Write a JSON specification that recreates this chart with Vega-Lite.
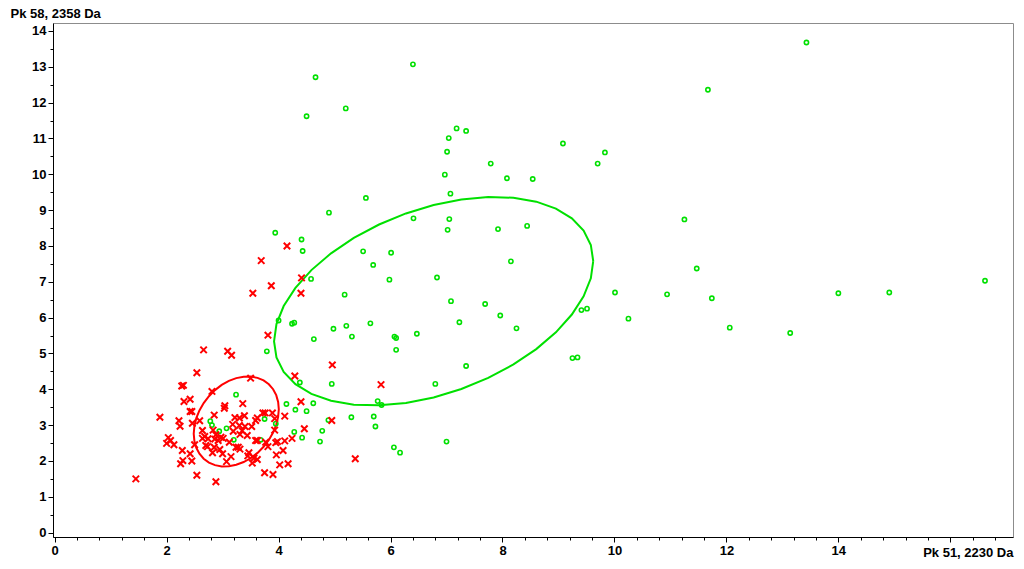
{
  "$schema": "https://vega.github.io/schema/vega-lite/v6.json",
  "width": 960,
  "height": 514,
  "autosize": {"type": "none"},
  "padding": {"left": 53, "top": 23, "right": 11, "bottom": 32},
  "background": "white",
  "config": {
    "view": {"stroke": "#8c8c8c", "strokeWidth": 1},
    "axis": {
      "labelFont": "Liberation Sans",
      "labelFontWeight": "bold",
      "labelFontSize": 13,
      "labelColor": "black",
      "titleFont": "Liberation Sans",
      "titleFontWeight": "bold",
      "titleFontSize": 13,
      "titleColor": "black",
      "domainColor": "black",
      "tickColor": "black",
      "grid": false,
      "labelOverlap": false,
      "labelFlush": false
    }
  },
  "encoding": {
    "x": {
      "field": "x",
      "type": "quantitative",
      "scale": {"domain": [-0.03, 17.12], "nice": false, "zero": false},
      "axis": {
        "values": [0, 0.4, 0.8, 1.2, 1.6, 2, 2.4, 2.8, 3.2, 3.6, 4, 4.4, 4.8, 5.2, 5.6, 6, 6.4, 6.8, 7.2, 7.6, 8, 8.4, 8.8, 9.2, 9.6, 10, 10.4, 10.8, 11.2, 11.6, 12, 12.4, 12.8, 13.2, 13.6, 14, 14.4, 14.8, 15.2, 15.6, 16, 16.4, 16.8],
        "labelExpr": "(abs(datum.value - 2*round(datum.value/2)) < 0.001 && datum.value < 15) ? format(datum.value, 'd') : ''",
        "tickSize": {"condition": {"test": "abs(datum.value - 2*round(datum.value/2)) < 0.001", "value": 5}, "value": 3},
        "labelPadding": 2,
        "title": "Pk 51, 2230 Da",
        "titleAlign": "right",
        "titleBaseline": "alphabetic",
        "titleX": 960,
        "titleY": 19
      }
    },
    "y": {
      "field": "y",
      "type": "quantitative",
      "scale": {"domain": [-0.123, 14.223], "nice": false, "zero": false},
      "axis": {
        "values": [0, 0.5, 1, 1.5, 2, 2.5, 3, 3.5, 4, 4.5, 5, 5.5, 6, 6.5, 7, 7.5, 8, 8.5, 9, 9.5, 10, 10.5, 11, 11.5, 12, 12.5, 13, 13.5, 14],
        "labelExpr": "abs(datum.value - round(datum.value)) < 0.001 ? format(datum.value, 'd') : ''",
        "tickSize": {"condition": {"test": "abs(datum.value - round(datum.value)) < 0.001", "value": 5}, "value": 3},
        "labelPadding": 2,
        "title": "Pk 58, 2358 Da",
        "titleAngle": 0,
        "titleAlign": "left",
        "titleBaseline": "alphabetic",
        "titleX": -43,
        "titleY": -6
      }
    }
  },
  "layer": [
    {
      "data": {"values": [
        {"g":"green","i":0,"x":9.621,"y":7.579},{"g":"green","i":1,"x":9.578,"y":7.096},{"g":"green","i":2,"x":9.449,"y":6.592},{"g":"green","i":3,"x":9.239,"y":6.086},{"g":"green","i":4,"x":8.954,"y":5.590},{"g":"green","i":5,"x":8.603,"y":5.122},{"g":"green","i":6,"x":8.196,"y":4.693},{"g":"green","i":7,"x":7.745,"y":4.317},{"g":"green","i":8,"x":7.265,"y":4.008},{"g":"green","i":9,"x":6.770,"y":3.772},{"g":"green","i":10,"x":6.275,"y":3.618},{"g":"green","i":11,"x":5.795,"y":3.551},{"g":"green","i":12,"x":5.344,"y":3.571},{"g":"green","i":13,"x":4.937,"y":3.680},{"g":"green","i":14,"x":4.586,"y":3.872},{"g":"green","i":15,"x":4.301,"y":4.144},{"g":"green","i":16,"x":4.091,"y":4.486},{"g":"green","i":17,"x":3.962,"y":4.888},{"g":"green","i":18,"x":3.919,"y":5.337},{"g":"green","i":19,"x":3.962,"y":5.820},{"g":"green","i":20,"x":4.091,"y":6.324},{"g":"green","i":21,"x":4.301,"y":6.830},{"g":"green","i":22,"x":4.586,"y":7.326},{"g":"green","i":23,"x":4.937,"y":7.794},{"g":"green","i":24,"x":5.344,"y":8.223},{"g":"green","i":25,"x":5.795,"y":8.599},{"g":"green","i":26,"x":6.275,"y":8.908},{"g":"green","i":27,"x":6.770,"y":9.144},{"g":"green","i":28,"x":7.265,"y":9.298},{"g":"green","i":29,"x":7.745,"y":9.365},{"g":"green","i":30,"x":8.196,"y":9.345},{"g":"green","i":31,"x":8.603,"y":9.236},{"g":"green","i":32,"x":8.954,"y":9.044},{"g":"green","i":33,"x":9.239,"y":8.772},{"g":"green","i":34,"x":9.449,"y":8.430},{"g":"green","i":35,"x":9.578,"y":8.028},{"g":"green","i":36,"x":9.621,"y":7.579},
        {"g":"red","i":0,"x":4.004,"y":3.443},{"g":"red","i":1,"x":3.992,"y":3.228},{"g":"red","i":2,"x":3.958,"y":3.008},{"g":"red","i":3,"x":3.902,"y":2.792},{"g":"red","i":4,"x":3.826,"y":2.586},{"g":"red","i":5,"x":3.732,"y":2.395},{"g":"red","i":6,"x":3.624,"y":2.225},{"g":"red","i":7,"x":3.504,"y":2.081},{"g":"red","i":8,"x":3.376,"y":1.969},{"g":"red","i":9,"x":3.244,"y":1.892},{"g":"red","i":10,"x":3.112,"y":1.851},{"g":"red","i":11,"x":2.984,"y":1.847},{"g":"red","i":12,"x":2.864,"y":1.883},{"g":"red","i":13,"x":2.756,"y":1.955},{"g":"red","i":14,"x":2.662,"y":2.062},{"g":"red","i":15,"x":2.586,"y":2.200},{"g":"red","i":16,"x":2.530,"y":2.366},{"g":"red","i":17,"x":2.496,"y":2.554},{"g":"red","i":18,"x":2.484,"y":2.759},{"g":"red","i":19,"x":2.496,"y":2.974},{"g":"red","i":20,"x":2.530,"y":3.194},{"g":"red","i":21,"x":2.586,"y":3.410},{"g":"red","i":22,"x":2.662,"y":3.616},{"g":"red","i":23,"x":2.756,"y":3.807},{"g":"red","i":24,"x":2.864,"y":3.977},{"g":"red","i":25,"x":2.984,"y":4.121},{"g":"red","i":26,"x":3.112,"y":4.233},{"g":"red","i":27,"x":3.244,"y":4.311},{"g":"red","i":28,"x":3.376,"y":4.351},{"g":"red","i":29,"x":3.504,"y":4.355},{"g":"red","i":30,"x":3.624,"y":4.319},{"g":"red","i":31,"x":3.732,"y":4.247},{"g":"red","i":32,"x":3.826,"y":4.140},{"g":"red","i":33,"x":3.902,"y":4.002},{"g":"red","i":34,"x":3.958,"y":3.836},{"g":"red","i":35,"x":3.992,"y":3.648},{"g":"red","i":36,"x":4.004,"y":3.443}
      ]},
      "mark": {"type": "line", "strokeWidth": 2, "interpolate": "linear"},
      "encoding": {
        "color": {"field": "g", "type": "nominal", "scale": {"domain": ["green", "red"], "range": ["#00e000", "#ff0000"]}, "legend": null},
        "order": {"field": "i", "type": "quantitative"}
      }
    },
    {
      "data": {"values": [
        {"x":13.43,"y":13.68},{"x":6.40,"y":13.07},{"x":4.66,"y":12.71},{"x":11.67,"y":12.36},{"x":5.20,"y":11.84},{"x":4.50,"y":11.62},{"x":7.18,"y":11.28},{"x":7.35,"y":11.21},{"x":7.04,"y":11.01},{"x":9.08,"y":10.86},{"x":7.01,"y":10.63},{"x":9.83,"y":10.61},{"x":9.70,"y":10.30},{"x":7.79,"y":10.30},{"x":6.97,"y":9.99},{"x":8.08,"y":9.89},{"x":8.54,"y":9.87},{"x":7.07,"y":9.46},{"x":5.56,"y":9.34},{"x":4.90,"y":8.93},{"x":6.41,"y":8.77},{"x":7.05,"y":8.75},{"x":11.25,"y":8.74},{"x":8.44,"y":8.56},{"x":7.92,"y":8.47},{"x":7.02,"y":8.45},{"x":3.94,"y":8.37},{"x":4.41,"y":8.18},{"x":4.43,"y":7.86},{"x":5.51,"y":7.85},{"x":6.01,"y":7.81},{"x":8.15,"y":7.57},{"x":5.69,"y":7.47},{"x":11.47,"y":7.37},{"x":6.83,"y":7.12},{"x":4.58,"y":7.08},{"x":5.98,"y":7.06},{"x":16.62,"y":7.03},{"x":10.01,"y":6.70},{"x":14.91,"y":6.70},{"x":14.00,"y":6.68},{"x":10.94,"y":6.65},{"x":5.18,"y":6.64},{"x":11.74,"y":6.54},{"x":7.08,"y":6.46},{"x":7.69,"y":6.38},{"x":9.51,"y":6.25},{"x":9.41,"y":6.21},{"x":7.96,"y":6.06},{"x":10.25,"y":5.97},{"x":4.00,"y":5.92},{"x":7.23,"y":5.87},{"x":4.28,"y":5.86},{"x":5.64,"y":5.84},{"x":4.24,"y":5.83},{"x":5.21,"y":5.77},{"x":12.06,"y":5.72},{"x":8.25,"y":5.70},{"x":4.98,"y":5.69},{"x":13.14,"y":5.57},{"x":6.47,"y":5.55},{"x":5.31,"y":5.47},{"x":6.07,"y":5.47},{"x":6.10,"y":5.43},{"x":4.63,"y":5.40},{"x":6.10,"y":5.10},{"x":3.79,"y":5.06},{"x":9.34,"y":4.89},{"x":9.25,"y":4.87},{"x":7.35,"y":4.65},{"x":4.38,"y":4.19},{"x":4.95,"y":4.15},{"x":6.80,"y":4.15},{"x":5.77,"y":3.67},{"x":4.62,"y":3.61},{"x":4.14,"y":3.59},{"x":5.84,"y":3.56},{"x":4.30,"y":3.43},{"x":4.50,"y":3.39},{"x":5.70,"y":3.24},{"x":5.30,"y":3.22},{"x":3.75,"y":3.17},{"x":4.89,"y":3.14},{"x":3.95,"y":3.04},{"x":5.73,"y":2.96},{"x":4.78,"y":2.84},{"x":4.28,"y":2.81},{"x":4.42,"y":2.65},{"x":3.68,"y":2.59},{"x":4.74,"y":2.54},{"x":7.00,"y":2.54},{"x":6.06,"y":2.38},{"x":6.17,"y":2.23},{"x":3.24,"y":3.85},{"x":2.78,"y":3.11},{"x":2.81,"y":3.00},{"x":2.94,"y":2.83},{"x":3.07,"y":2.91},{"x":3.20,"y":2.59}
      ]},
      "mark": {"type": "point", "shape": "circle", "filled": false, "size": 18, "strokeWidth": 1.6, "color": "#00e000", "opacity": 1}
    },
    {
      "data": {"values": [
        {"x":4.15,"y":8.00},{"x":3.69,"y":7.59},{"x":4.41,"y":7.11},{"x":3.87,"y":6.89},{"x":3.54,"y":6.68},{"x":4.40,"y":6.68},{"x":3.81,"y":5.51},{"x":2.66,"y":5.10},{"x":3.09,"y":5.06},{"x":3.16,"y":4.95},{"x":4.96,"y":4.68},{"x":2.54,"y":4.46},{"x":4.29,"y":4.37},{"x":3.50,"y":4.31},{"x":5.83,"y":4.13},{"x":2.27,"y":4.09},{"x":2.30,"y":4.11},{"x":2.81,"y":3.94},{"x":2.42,"y":3.72},{"x":2.31,"y":3.66},{"x":4.40,"y":3.65},{"x":3.36,"y":3.60},{"x":3.04,"y":3.54},{"x":3.03,"y":3.47},{"x":2.42,"y":3.38},{"x":2.45,"y":3.38},{"x":3.72,"y":3.34},{"x":3.76,"y":3.34},{"x":3.89,"y":3.34},{"x":2.85,"y":3.28},{"x":4.11,"y":3.25},{"x":3.39,"y":3.26},{"x":3.22,"y":3.21},{"x":1.88,"y":3.22},{"x":3.30,"y":3.20},{"x":3.62,"y":3.20},{"x":3.93,"y":3.18},{"x":4.95,"y":3.13},{"x":3.59,"y":3.13},{"x":2.22,"y":3.12},{"x":2.59,"y":3.12},{"x":2.46,"y":3.05},{"x":3.18,"y":3.02},{"x":3.30,"y":2.99},{"x":2.24,"y":2.97},{"x":3.40,"y":2.96},{"x":3.52,"y":2.96},{"x":4.46,"y":2.90},{"x":3.93,"y":2.86},{"x":2.64,"y":2.85},{"x":2.83,"y":2.86},{"x":3.19,"y":2.83},{"x":3.35,"y":2.84},{"x":3.31,"y":2.74},{"x":2.88,"y":2.73},{"x":3.44,"y":2.71},{"x":2.68,"y":2.68},{"x":2.97,"y":2.66},{"x":2.03,"y":2.65},{"x":4.24,"y":2.63},{"x":2.74,"y":2.62},{"x":2.64,"y":2.63},{"x":3.01,"y":2.63},{"x":2.86,"y":2.61},{"x":2.07,"y":2.57},{"x":2.92,"y":2.57},{"x":3.59,"y":2.57},{"x":3.62,"y":2.57},{"x":4.11,"y":2.56},{"x":3.98,"y":2.54},{"x":3.12,"y":2.52},{"x":3.77,"y":2.52},{"x":3.95,"y":2.51},{"x":2.00,"y":2.49},{"x":2.13,"y":2.45},{"x":2.50,"y":2.45},{"x":2.70,"y":2.43},{"x":2.73,"y":2.40},{"x":3.81,"y":2.40},{"x":2.85,"y":2.38},{"x":3.24,"y":2.38},{"x":3.28,"y":2.38},{"x":3.31,"y":2.33},{"x":2.95,"y":2.32},{"x":2.28,"y":2.29},{"x":4.08,"y":2.29},{"x":3.47,"y":2.23},{"x":2.82,"y":2.23},{"x":2.42,"y":2.20},{"x":3.00,"y":2.20},{"x":3.96,"y":2.17},{"x":3.45,"y":2.14},{"x":3.15,"y":2.12},{"x":3.56,"y":2.08},{"x":5.37,"y":2.06},{"x":3.62,"y":2.04},{"x":2.29,"y":2.01},{"x":2.45,"y":2.00},{"x":3.07,"y":1.98},{"x":3.53,"y":1.94},{"x":2.25,"y":1.92},{"x":4.17,"y":1.92},{"x":4.02,"y":1.89},{"x":3.75,"y":1.67},{"x":3.90,"y":1.62},{"x":2.54,"y":1.60},{"x":2.88,"y":1.42},{"x":1.45,"y":1.50}
      ]},
      "mark": {"type": "point", "shape": "M-1,-1L1,1M-1,1L1,-1", "filled": false, "size": 42, "strokeWidth": 2, "color": "#ff0000", "opacity": 1}
    }
  ]
}
